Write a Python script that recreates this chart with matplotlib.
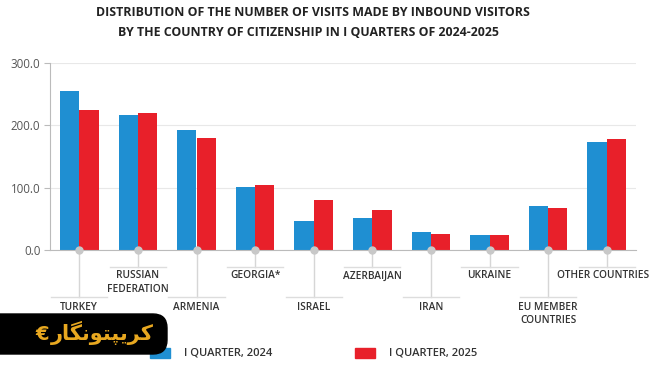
import numpy as np
import matplotlib
matplotlib.use("Agg")
import matplotlib.pyplot as plt
from matplotlib.patches import Rectangle, FancyBboxPatch
from matplotlib.transforms import blended_transform_factory, IdentityTransform

plt.rcParams['font.family'] = ['Open Sans', 'DejaVu Sans']

countries = ["TURKEY", "RUSSIAN\nFEDERATION", "ARMENIA", "GEORGIA*", "ISRAEL",
             "AZERBAIJAN", "IRAN", "UKRAINE", "EU MEMBER\nCOUNTRIES", "OTHER COUNTRIES"]
q1_2024 = [255.0, 216.0, 192.0, 100.5, 46.5, 50.7, 28.3, 24.0, 70.5, 173.0]
q1_2025 = [225.0, 219.5, 180.0, 104.7, 80.0, 64.0, 26.2, 24.0, 66.8, 178.0]
series_names = ["I QUARTER, 2024", "I QUARTER, 2025"]

blue = "#1f8fd2"
red = "#e8202a"
W, H = 650, 365

fig = plt.figure(figsize=(6.5, 3.65), dpi=100)
ax = fig.add_axes([50 / W, 1 - 250 / H, (636 - 50) / W, (250 - 62.7) / H])

x = np.arange(len(countries))
bw = 0.33
ax.bar(x - bw / 2, q1_2024, bw, color=blue, zorder=2)
ax.bar(x + bw / 2, q1_2025, bw, color=red, zorder=2)

ax.set_xlim(-0.5, len(countries) - 0.5)
ax.set_ylim(0, 300)
ax.set_yticks([0, 100, 200, 300])
ax.set_yticklabels(["%.1f" % v for v in [0, 100, 200, 300]])
ax.tick_params(axis='y', length=4, width=0.8, color="#bbbbbb", labelsize=8.3,
               labelcolor="#555555", pad=3)
ax.set_xticks([])
ax.grid(axis='y', color="#e8e8e8", lw=0.8, zorder=0)
for s in ["top", "right"]:
    ax.spines[s].set_visible(False)
ax.spines["left"].set_color("#bbbbbb")
ax.spines["bottom"].set_color("#bbbbbb")

# category labels on two alternating levels with stems
tr = blended_transform_factory(ax.transData, fig.transFigure)
for i, name in enumerate(countries):
    if i % 2 == 1:
        line_y, text_y = 266.7, 270.5
    else:
        line_y, text_y = 297.3, 302
    ax.plot([i, i], [1 - 250 / H, 1 - line_y / H], transform=tr, color="#d6d6d6",
            lw=1, clip_on=False, zorder=1)
    ax.plot([i - 0.48, i + 0.48], [1 - line_y / H] * 2, transform=tr, color="#dddddd",
            lw=1, clip_on=False, zorder=1)
    ax.plot([i], [1 - 250 / H], transform=tr, marker="o", ms=5, color="#c8c8c8",
            clip_on=False, zorder=3)
    xi = i - 0.07 if i == len(countries) - 1 else i
    ax.text(xi, 1 - text_y / H, name, transform=tr, ha="center", va="top",
            fontsize=7.3, fontweight="semibold", color="#333333", linespacing=1.25,
            clip_on=False)

# title
fig.text(313 / W, 1 - 12 / H, "DISTRIBUTION OF THE NUMBER OF VISITS MADE BY INBOUND VISITORS",
         ha="center", va="center", fontsize=8.9, fontweight="bold", color="#222222")
fig.text(308 / W, 1 - 33 / H, "BY THE COUNTRY OF CITIZENSHIP IN I QUARTERS OF 2024-2025",
         ha="center", va="center", fontsize=8.9, fontweight="bold", color="#222222")

# legend
for x0, col, lab in [(150, blue, series_names[0]), (355, red, series_names[1])]:
    fig.patches.append(Rectangle((x0 / W, 1 - 358 / H), 20 / W, 10 / H,
                                 transform=fig.transFigure, color=col))
    fig.text((x0 + 34) / W, 1 - 353 / H, lab, ha="left", va="center",
             fontsize=8, fontweight="semibold", color="#333333")

# watermark box
fig.patches.append(FancyBboxPatch((-30, H - 354), 197, 40,
                                  boxstyle="round,pad=0,rounding_size=14",
                                  transform=IdentityTransform(), color="black",
                                  zorder=5))
wm = "\uFEAD\uFE8E\uFB95\uFEE7\uFEEE\uFE98\uFB59\uFBFE\uFEAE\uFB90"
fig.text(102 / W, 1 - 333 / H, wm, ha="center", va="center", fontsize=15,
         fontweight="bold", color="#e8a820", family="DejaVu Sans", zorder=6)
fig.text(42 / W, 1 - 334 / H, "\u20AC", ha="center", va="center", fontsize=14,
         fontweight="bold", color="#e8a820", family="DejaVu Sans", zorder=6)

fig.savefig("out.png", dpi=100)
